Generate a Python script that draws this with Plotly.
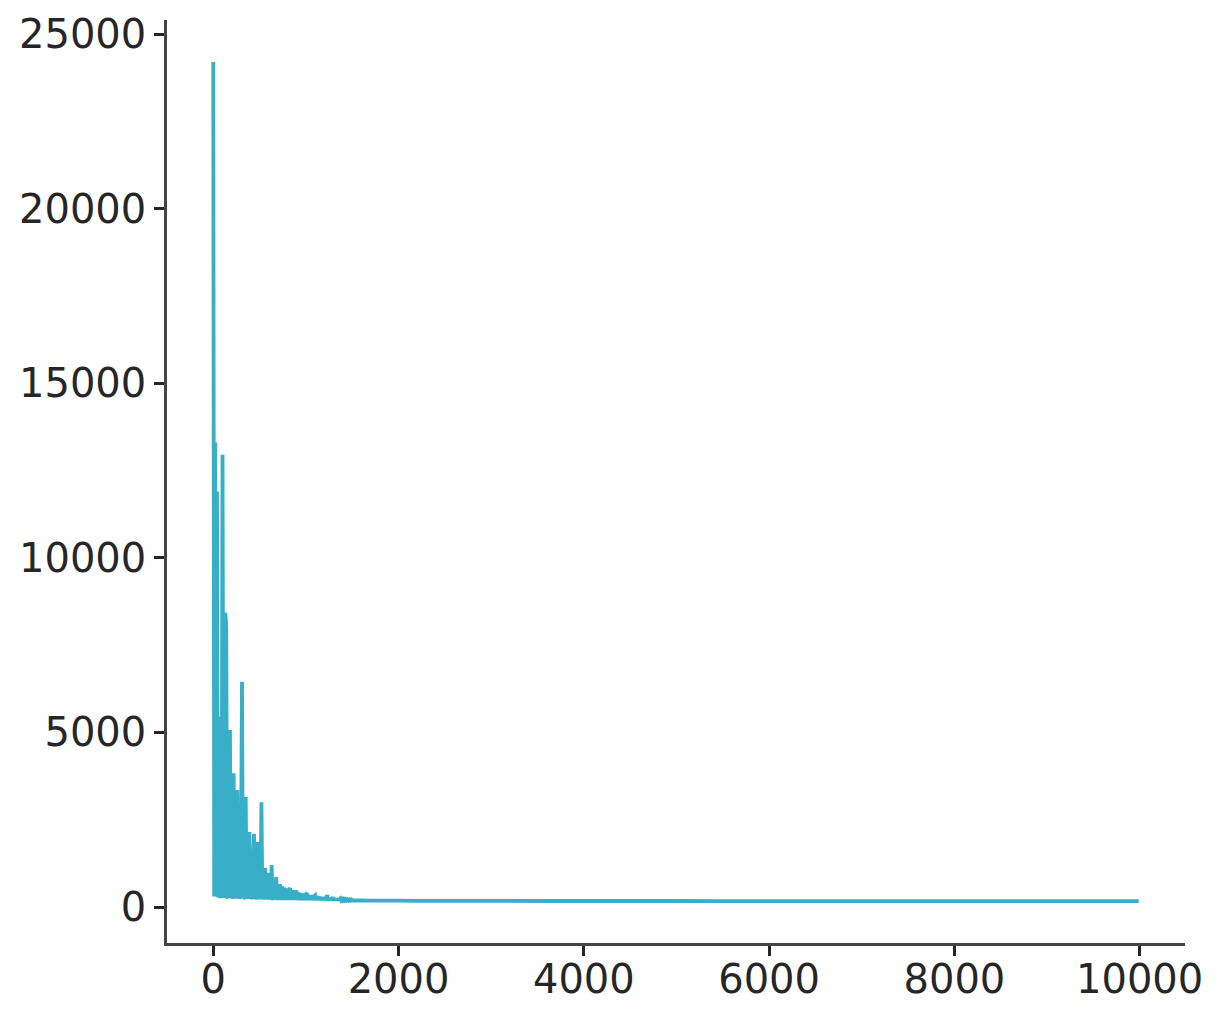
import plotly.graph_objects as go

# Early training steps (step 10) and their values
early_steps = list(range(0, 1510, 10))
early_values = [
    24200, 300, 13300, 350, 11900, 280, 4400, 250, 5450, 300,
    12950, 260, 1900, 8430, 8030, 240, 1900, 300, 5070, 250,
    1800, 230, 3830, 280, 1800, 240, 3350, 260, 2120, 230,
    1700, 6450, 250, 1600, 220, 3150, 260, 1500, 230, 2150,
    240, 1400, 220, 1300, 2100, 230, 1200, 210, 1860, 240,
    1100, 220, 3000, 230, 1000, 210, 1120, 220, 900, 970,
    210, 800, 220, 1200, 200, 750, 210, 700, 860, 200,
    650, 210, 660, 200, 600, 210, 560, 200, 540, 205,
    520, 200, 500, 545, 200, 480, 198, 460, 200, 440,
    460, 198, 420, 200, 400, 196, 390, 198, 380, 196,
    370, 400, 196, 350, 195, 340, 196, 330, 195, 320,
    340, 195, 310, 194, 300, 195, 290, 194, 285, 194,
    280, 194, 275, 340, 193, 265, 193, 260, 192, 290,
    192, 250, 192, 245, 191, 240, 191, 235, 190, 230,
    190, 225, 190, 222, 189, 218, 189, 215, 188, 212,
    188,
]

# Later steps (flat tail)
late_steps = [1600, 1700, 1800, 2000, 2200, 2500, 3000, 3500, 4000, 4500,
              5000, 5500, 6000, 6500, 7000, 7500, 8000, 8500, 9000, 9500, 9990]
late_values = [190, 186, 185, 182, 180, 177, 176, 174, 174, 173,
               173, 172, 172, 171, 172, 171, 171, 171, 171, 170, 171]

x_ticks = [0, 2000, 4000, 6000, 8000, 10000]
y_ticks = [0, 5000, 10000, 15000, 20000, 25000]

steps = early_steps + late_steps
values = early_values + late_values

fig = go.Figure()
fig.add_trace(go.Scatter(
    x=steps, y=values, mode="lines",
    line=dict(color="#38aec9", width=3.8, simplify=False),
    showlegend=False,
))

axis_common = dict(
    showline=True, linecolor="#444444", linewidth=2.5,
    ticks="outside", ticklen=10, tickwidth=2.5, tickcolor="#262626",
    showgrid=False, zeroline=False, mirror=False, automargin=False,
    tickfont=dict(family="DejaVu Sans", size=40, color="#262626"),
)

# page body has an 8px default margin; margins below compensate for it
fig.update_layout(
    width=1223, height=1023,
    margin=dict(l=159, r=46, t=12, b=88),
    paper_bgcolor="white", plot_bgcolor="white",
    xaxis=dict(range=[-499.5, 10489.5], tickvals=x_ticks,
               ticktext=[str(v) for v in x_ticks], ticklabelstandoff=-11, **axis_common),
    yaxis=dict(range=[-1029, 25401], tickvals=y_ticks,
               ticktext=[str(v) for v in y_ticks], ticklabelstandoff=0, **axis_common),
)

fig.write_html("out.html")
